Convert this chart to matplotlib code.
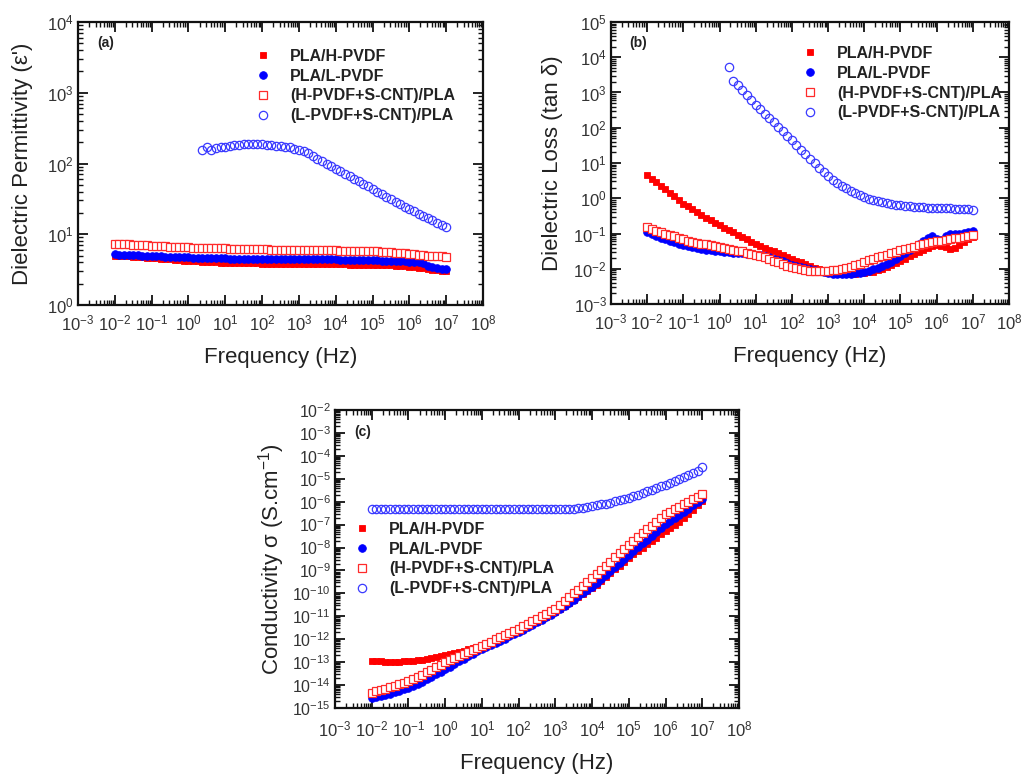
import numpy as np
import matplotlib
matplotlib.use('Agg')
import matplotlib.pyplot as plt
from matplotlib.ticker import LogLocator, NullFormatter, LogFormatterMathtext

plt.rcParams['font.family'] = ['Liberation Sans', 'DejaVu Sans']
plt.rcParams['mathtext.fontset'] = 'custom'
plt.rcParams['mathtext.rm'] = 'Liberation Sans'
plt.rcParams['mathtext.it'] = 'Liberation Sans:italic'
plt.rcParams['mathtext.bf'] = 'Liberation Sans:bold'

# ---------------- data ----------------
# log10 of frequency (Hz) of the measurement points
LOG_F = [-2.0, -1.875, -1.75, -1.625, -1.5, -1.375, -1.25, -1.125,
         -1.0, -0.875, -0.75, -0.625, -0.5, -0.375, -0.25, -0.125,
         0.0, 0.125, 0.25, 0.375, 0.5, 0.625, 0.75, 0.875,
         1.0, 1.125, 1.25, 1.375, 1.5, 1.625, 1.75, 1.875,
         2.0, 2.125, 2.25, 2.375, 2.5, 2.625, 2.75, 2.875,
         3.0, 3.125, 3.25, 3.375, 3.5, 3.625, 3.75, 3.875,
         4.0, 4.125, 4.25, 4.375, 4.5, 4.625, 4.75, 4.875,
         5.0, 5.125, 5.25, 5.375, 5.5, 5.625, 5.75, 5.875,
         6.0, 6.125, 6.25, 6.375, 6.5, 6.625, 6.75, 6.875,
         7.0]

LABELS = ['PLA/H-PVDF', 'PLA/L-PVDF', '(H-PVDF+S-CNT)/PLA', '(L-PVDF+S-CNT)/PLA']

# (a) dielectric permittivity (linear values)
EPS_H = [5.00, 4.95, 4.90, 4.85, 4.80, 4.75, 4.70, 4.65,
         4.60, 4.55, 4.50, 4.45, 4.40, 4.35, 4.30, 4.25,
         4.20, 4.17, 4.14, 4.11, 4.08, 4.05, 4.02, 3.98,
         3.95, 3.94, 3.93, 3.91, 3.90, 3.89, 3.88, 3.86,
         3.85, 3.84, 3.84, 3.83, 3.83, 3.82, 3.81, 3.81,
         3.80, 3.79, 3.79, 3.78, 3.78, 3.77, 3.76, 3.76,
         3.75, 3.74, 3.74, 3.73, 3.73, 3.72, 3.71, 3.71,
         3.70, 3.69, 3.68, 3.66, 3.64, 3.61, 3.58, 3.54,
         3.50, 3.44, 3.37, 3.29, 3.20, 3.14, 3.09, 3.04, 3.00]
EPS_L = [5.20, 5.16, 5.12, 5.08, 5.05, 5.01, 4.97, 4.94,
         4.90, 4.87, 4.85, 4.82, 4.80, 4.77, 4.75, 4.72,
         4.70, 4.68, 4.66, 4.64, 4.62, 4.60, 4.58, 4.57,
         4.55, 4.54, 4.54, 4.53, 4.52, 4.52, 4.51, 4.51,
         4.50, 4.49, 4.49, 4.48, 4.48, 4.47, 4.46, 4.46,
         4.45, 4.44, 4.44, 4.43, 4.43, 4.42, 4.41, 4.41,
         4.40, 4.39, 4.38, 4.36, 4.35, 4.34, 4.33, 4.31,
         4.30, 4.28, 4.25, 4.23, 4.20, 4.18, 4.15, 4.13,
         4.10, 4.05, 4.00, 3.95, 3.55, 3.40, 3.30, 3.25, 3.20]
EPS_HCNT = [7.40, 7.33, 7.27, 7.20, 7.14, 7.08, 7.02, 6.96,
            6.90, 6.85, 6.80, 6.75, 6.70, 6.65, 6.60, 6.55,
            6.50, 6.47, 6.45, 6.42, 6.40, 6.37, 6.35, 6.32,
            6.30, 6.27, 6.25, 6.22, 6.20, 6.17, 6.15, 6.12,
            6.10, 6.09, 6.07, 6.06, 6.05, 6.04, 6.02, 6.01,
            6.00, 5.99, 5.97, 5.96, 5.95, 5.94, 5.92, 5.91,
            5.90, 5.89, 5.87, 5.86, 5.85, 5.84, 5.82, 5.81,
            5.80, 5.75, 5.70, 5.65, 5.60, 5.52, 5.45, 5.37,
            5.30, 5.22, 5.15, 5.07, 5.00, 4.95, 4.90, 4.85, 4.80]
# starts at 10^0.375 Hz (log10 values)
LOG_EPS_LCNT = [2.19, 2.24, 2.19, 2.22, 2.24,
                2.24, 2.25, 2.26, 2.26, 2.27, 2.27, 2.27, 2.27,
                2.27, 2.26, 2.26, 2.25, 2.25, 2.24, 2.23, 2.21,
                2.19, 2.17, 2.15, 2.11, 2.07, 2.03, 2.00, 1.96,
                1.92, 1.89, 1.85, 1.82, 1.78, 1.75, 1.71, 1.68,
                1.64, 1.60, 1.57, 1.53, 1.50, 1.46, 1.43, 1.39,
                1.36, 1.33, 1.29, 1.26, 1.23, 1.20, 1.16, 1.13,
                1.10]

# (b) dielectric loss tan delta (log10 values)
LOG_TAN_H = [0.66, 0.55, 0.45, 0.35, 0.25, 0.15, 0.05, -0.05,
             -0.15, -0.23, -0.31, -0.39, -0.47, -0.55, -0.62, -0.70,
             -0.77, -0.84, -0.91, -0.97, -1.04, -1.10, -1.17, -1.24,
             -1.30, -1.36, -1.41, -1.46, -1.51, -1.56, -1.62, -1.67,
             -1.72, -1.77, -1.82, -1.87, -1.92, -1.97, -2.02, -2.07,
             -2.11, -2.13, -2.14, -2.15, -2.15, -2.15, -2.14, -2.13,
             -2.12, -2.10, -2.08, -2.04, -2.00, -1.95, -1.90, -1.84,
             -1.78, -1.72, -1.65, -1.58, -1.52, -1.46, -1.41, -1.36,
             -1.33, -1.35, -1.38, -1.44, -1.40, -1.32, -1.25, -1.17, -1.10]
LOG_TAN_L = [-0.95, -1.01, -1.07, -1.12, -1.17, -1.21, -1.25, -1.29,
             -1.33, -1.36, -1.39, -1.41, -1.44, -1.46, -1.48, -1.50,
             -1.51, -1.52, -1.53, -1.54, -1.55, -1.56, -1.57, -1.59,
             -1.60, -1.62, -1.65, -1.68, -1.71, -1.75, -1.79, -1.84,
             -1.89, -1.92, -1.95, -1.98, -2.01, -2.04, -2.07, -2.10,
             -2.12, -2.14, -2.15, -2.15, -2.15, -2.14, -2.13, -2.11,
             -2.08, -2.05, -2.02, -1.98, -1.93, -1.87, -1.80, -1.72,
             -1.64, -1.56, -1.47, -1.39, -1.31, -1.22, -1.12, -1.08,
             -1.15, -1.19, -1.08, -1.01, -1.00, -1.00, -0.99, -0.97, -0.94]
LOG_TAN_HCNT = [-0.82, -0.87, -0.92, -0.96, -1.00, -1.04, -1.08, -1.13,
                -1.17, -1.20, -1.23, -1.26, -1.29, -1.31, -1.34, -1.36,
                -1.38, -1.41, -1.43, -1.46, -1.49, -1.51, -1.54, -1.57,
                -1.60, -1.64, -1.68, -1.73, -1.77, -1.82, -1.86, -1.91,
                -1.95, -1.98, -2.01, -2.03, -2.05, -2.06, -2.06, -2.06,
                -2.05, -2.04, -2.03, -2.01, -1.98, -1.94, -1.90, -1.86,
                -1.81, -1.76, -1.72, -1.68, -1.64, -1.60, -1.56, -1.52,
                -1.48, -1.44, -1.41, -1.37, -1.34, -1.31, -1.28, -1.25,
                -1.22, -1.20, -1.18, -1.16, -1.14, -1.12, -1.10, -1.07, -1.05]
# starts at 10^0.25 Hz
LOG_TAN_LCNT = [3.72, 3.32, 3.20, 3.07, 2.94, 2.79,
                2.64, 2.52, 2.40, 2.27, 2.15, 2.03, 1.90, 1.77,
                1.64, 1.51, 1.38, 1.25, 1.12, 0.99, 0.86, 0.74,
                0.63, 0.53, 0.44, 0.36, 0.28, 0.21, 0.14, 0.08,
                0.03, -0.01, -0.05, -0.08, -0.11, -0.13, -0.16, -0.18,
                -0.20, -0.21, -0.23, -0.24, -0.25, -0.26, -0.27, -0.27,
                -0.28, -0.28, -0.29, -0.29, -0.30, -0.30, -0.31, -0.31,
                -0.32]

# (c) conductivity S/cm (log10 values)
LOG_SIG_H = [-12.95, -12.96, -12.97, -12.98, -12.98, -12.98, -12.98, -12.97,
             -12.96, -12.94, -12.92, -12.89, -12.86, -12.82, -12.78, -12.74,
             -12.70, -12.65, -12.60, -12.55, -12.50, -12.44, -12.38, -12.33,
             -12.28, -12.20, -12.12, -12.04, -11.96, -11.88, -11.80, -11.72,
             -11.64, -11.54, -11.44, -11.34, -11.23, -11.13, -11.02, -10.91,
             -10.80, -10.67, -10.54, -10.41, -10.28, -10.15, -10.01, -9.90,
             -9.78, -9.62, -9.46, -9.29, -9.12, -8.95, -8.79, -8.62,
             -8.46, -8.30, -8.15, -8.00, -7.85, -7.71, -7.57, -7.43,
             -7.29, -7.15, -7.02, -6.88, -6.72, -6.55, -6.36, -6.16, -5.96]
LOG_SIG_L = [-14.56, -14.52, -14.47, -14.42, -14.37, -14.31, -14.25, -14.18,
             -14.11, -14.03, -13.94, -13.85, -13.75, -13.64, -13.53, -13.42,
             -13.30, -13.19, -13.08, -12.97, -12.86, -12.75, -12.64, -12.53,
             -12.43, -12.34, -12.25, -12.16, -12.06, -11.97, -11.88, -11.79,
             -11.70, -11.59, -11.48, -11.37, -11.26, -11.15, -11.04, -10.93,
             -10.81, -10.68, -10.55, -10.41, -10.27, -10.13, -9.99, -9.85,
             -9.71, -9.54, -9.37, -9.19, -9.01, -8.84, -8.66, -8.49,
             -8.31, -8.14, -7.97, -7.81, -7.65, -7.48, -7.32, -7.15,
             -6.99, -6.85, -6.71, -6.58, -6.44, -6.30, -6.16, -6.03, -5.89]
LOG_SIG_HCNT = [-14.33, -14.27, -14.21, -14.15, -14.09, -14.02, -13.96, -13.89,
                -13.82, -13.73, -13.64, -13.54, -13.44, -13.34, -13.23, -13.12,
                -13.01, -12.91, -12.82, -12.72, -12.63, -12.54, -12.45, -12.37,
                -12.28, -12.19, -12.10, -12.01, -11.92, -11.82, -11.73, -11.64,
                -11.55, -11.44, -11.33, -11.22, -11.11, -11.00, -10.89, -10.78,
                -10.66, -10.50, -10.33, -10.17, -10.00, -9.84, -9.67, -9.50,
                -9.34, -9.16, -8.97, -8.79, -8.61, -8.42, -8.24, -8.05,
                -7.87, -7.70, -7.54, -7.37, -7.21, -7.04, -6.88, -6.71,
                -6.55, -6.44, -6.33, -6.22, -6.11, -6.00, -5.89, -5.78, -5.67]
LOG_SIG_LCNT = [-6.33, -6.33, -6.33, -6.33, -6.33, -6.33, -6.33, -6.33,
                -6.33, -6.33, -6.33, -6.33, -6.33, -6.33, -6.33, -6.33,
                -6.33, -6.33, -6.33, -6.33, -6.33, -6.33, -6.33, -6.33,
                -6.33, -6.33, -6.33, -6.33, -6.33, -6.33, -6.33, -6.33,
                -6.33, -6.33, -6.33, -6.33, -6.33, -6.33, -6.33, -6.33,
                -6.33, -6.33, -6.33, -6.32, -6.30, -6.28, -6.26, -6.23,
                -6.20, -6.16, -6.12, -6.08, -6.04, -5.99, -5.94, -5.88,
                -5.82, -5.76, -5.69, -5.62, -5.54, -5.47, -5.40, -5.32,
                -5.25, -5.17, -5.09, -5.01, -4.93, -4.84, -4.75, -4.65, -4.50]

# ---------------- drawing ----------------
F = 10.0 ** np.array(LOG_F)
F_EPS_LCNT = F[len(F) - len(LOG_EPS_LCNT):]
F_TAN_LCNT = F[len(F) - len(LOG_TAN_LCNT):]

STYLES = [
    dict(marker='s', ms=5.0, mfc='#ff0000', mec='#ff0000', mew=0.6),
    dict(marker='o', ms=5.5, mfc='#0000ff', mec='#0000ff', mew=0.6),
    dict(marker='s', ms=5.5, mfc='white', mec='#ff2a2a', mew=0.9),
    dict(marker='o', ms=6.0, mfc='none', mec='#3a3aff', mew=0.9),
]

fig = plt.figure(figsize=(10.32, 7.75), dpi=100)

ax_a = fig.add_axes([78 / 1032, 1 - 305 / 775, 405 / 1032, 283 / 775])
ax_b = fig.add_axes([611 / 1032, 1 - 304 / 775, 398 / 1032, 282 / 775])
ax_c = fig.add_axes([335 / 1032, 1 - 708 / 775, 404 / 1032, 298 / 775])

panels = [
    (ax_a, [(F, np.array(EPS_H)), (F, np.array(EPS_L)), (F, np.array(EPS_HCNT)),
            (F_EPS_LCNT, 10.0 ** np.array(LOG_EPS_LCNT))],
     (1e0, 1e4), "Dielectric Permittivity (ε')", '(a)', (0.443, 0.905), -0.112, 12, 6),
    (ax_b, [(F, 10.0 ** np.array(LOG_TAN_H)), (F, 10.0 ** np.array(LOG_TAN_L)),
            (F, 10.0 ** np.array(LOG_TAN_HCNT)), (F_TAN_LCNT, 10.0 ** np.array(LOG_TAN_LCNT))],
     (1e-3, 1e5), 'Dielectric Loss (tan δ)', '(b)', (0.486, 0.915), -0.12, 12, 6),
    (ax_c, [(F, 10.0 ** np.array(LOG_SIG_H)), (F, 10.0 ** np.array(LOG_SIG_L)),
            (F, 10.0 ** np.array(LOG_SIG_HCNT)), (F, 10.0 ** np.array(LOG_SIG_LCNT))],
     (1e-15, 1e-2), r'Conductivity σ (S.cm$^{-1}$)', '(c)', (0.053, 0.625), -0.118, 11.5, 8),
]

for ax, series, ylim, ylabel, tag, legpos, ylx, ysize, xpad in panels:
    handles = []
    for (x, y), st, lab in zip(series, STYLES, LABELS):
        h, = ax.plot(x, y, ls='none', label=lab, **st)
        handles.append(h)
    ax.set_xscale('log')
    ax.set_yscale('log')
    ax.set_xlim(1e-3, 1e8)
    ax.set_ylim(*ylim)
    for axis in (ax.xaxis, ax.yaxis):
        axis.set_major_locator(LogLocator(base=10, numticks=40))
        axis.set_minor_locator(LogLocator(base=10, subs=np.arange(2, 10), numticks=400))
        axis.set_major_formatter(LogFormatterMathtext())
        axis.set_minor_formatter(NullFormatter())
    ax.tick_params(which='both', direction='in', top=True, right=True,
                   colors='#111111', labelcolor='#333333')
    ax.tick_params(which='major', length=7, width=1.3)
    ax.tick_params(axis='x', which='major', labelsize=12, pad=xpad)
    ax.tick_params(axis='y', which='major', labelsize=ysize, pad=3)
    ax.tick_params(which='minor', length=3.5, width=1.0)
    for sp in ax.spines.values():
        sp.set_linewidth(1.6)
        sp.set_color('#111111')
    ax.set_xlabel('Frequency (Hz)', fontsize=16, color='#222222')
    ax.set_ylabel(ylabel, fontsize=16, color='#222222')
    ax.xaxis.set_label_coords(0.5, -0.15)
    ax.yaxis.set_label_coords(ylx, 0.5)
    ax.text(0.047, 0.925, tag, transform=ax.transAxes, fontsize=10,
            fontweight='bold', va='center', ha='left', color='#222222')
    ax.legend(handles=handles, loc='upper left', bbox_to_anchor=legpos,
              frameon=False, prop={'weight': 'bold', 'size': 11.5},
              handlelength=0.7, handletextpad=1.35, labelspacing=0.3,
              borderpad=0, borderaxespad=0, numpoints=1, labelcolor='#222222')

fig.savefig('out.png', dpi=100)
